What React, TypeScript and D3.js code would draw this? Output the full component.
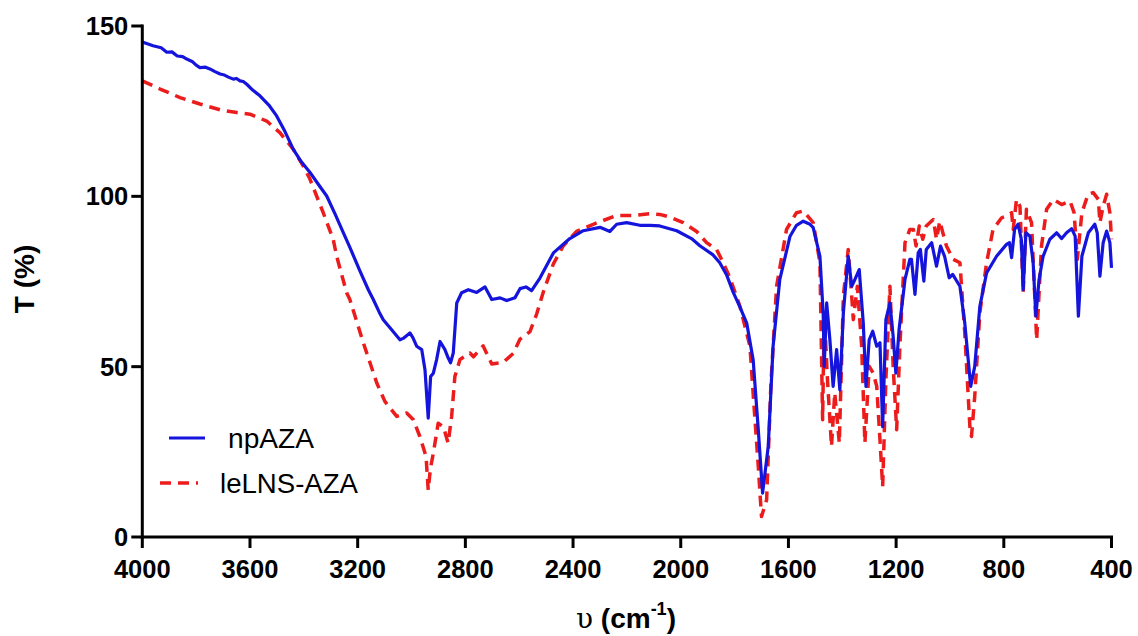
import React from "react";
import * as d3 from "d3";

const seriesNames = ["npAZA", "leLNS-AZA"];

const xTicks = [4000, 3600, 3200, 2800, 2400, 2000, 1600, 1200, 800, 400];
const yTicks = [0, 50, 100, 150];

// [wavenumber (cm-1), T (%)]
const npAZA: [number, number][] = [
  [4000,145.3],[3960,144.2],[3930,143.6],[3909,142.3],[3890,142.4],[3870,141.2],[3850,141.0],[3835,140.3],[3815,139.6],[3800,138.5],[3786,137.8],[3765,137.9],[3749,137.4],[3730,136.6],[3711,135.9],[3695,135.6],[3680,135.0],[3662,134.4],[3650,134.6],[3637,133.9],[3625,133.7],[3612,132.9],[3590,131.2],[3563,129.5],[3530,126.8],[3501,123.6],[3470,119.0],[3439,113.8],[3410,110.2],[3377,107.0],[3345,103.4],[3315,100.1],[3285,95.0],[3253,89.3],[3229,85.0],[3191,78.0],[3160,72.5],[3142,69.7],[3120,66.0],[3105,63.8],[3080,61.4],[3043,57.9],[3031,58.3],[3006,59.9],[2995,58.5],[2981,56.0],[2962,55.0],[2950,49.1],[2938,34.9],[2929,47.1],[2919,48.1],[2907,52.0],[2894,57.4],[2876,55.0],[2864,52.6],[2855,51.1],[2845,54.0],[2832,68.7],[2814,71.7],[2789,72.6],[2758,71.8],[2727,73.4],[2702,69.7],[2671,70.2],[2647,69.4],[2616,70.2],[2597,72.9],[2575,73.4],[2554,72.3],[2523,76.0],[2473,83.4],[2412,87.6],[2362,89.9],[2300,90.9],[2263,89.7],[2238,91.8],[2201,92.3],[2152,91.5],[2114,91.5],[2078,91.3],[2015,89.9],[1960,87.6],[1929,85.5],[1880,82.8],[1855,80.5],[1830,77.0],[1805,71.8],[1780,67.5],[1755,62.8],[1731,52.0],[1712,31.5],[1696,12.9],[1675,26.6],[1657,56.0],[1632,75.6],[1594,88.3],[1570,91.5],[1545,92.7],[1520,91.8],[1508,90.8],[1483,82.4],[1471,65.8],[1467,50.1],[1458,68.7],[1446,57.9],[1434,44.2],[1421,55.0],[1409,43.2],[1396,65.8],[1378,82.4],[1365,73.6],[1353,75.6],[1337,78.5],[1322,62.8],[1312,44.2],[1300,57.9],[1287,60.4],[1272,56.0],[1260,57.0],[1250,32.4],[1238,63.8],[1223,68.7],[1211,58.9],[1201,48.1],[1189,60.9],[1167,75.6],[1149,81.5],[1143,81.5],[1130,71.2],[1118,83.4],[1110,84.4],[1097,75.1],[1088,84.4],[1068,86.4],[1050,79.5],[1035,85.4],[1020,82.4],[1003,76.1],[990,77.1],[963,73.6],[945,62.8],[923,44.2],[908,50.1],[889,67.7],[864,77.5],[827,82.4],[790,85.9],[779,86.4],[771,82.0],[760,90.3],[747,91.8],[735,87.4],[728,72.6],[718,89.3],[703,88.3],[691,80.5],[681,64.8],[669,75.6],[654,82.4],[629,87.4],[604,89.3],[585,87.6],[567,89.3],[548,90.5],[535,88.3],[523,64.8],[510,82.4],[486,89.3],[462,91.8],[453,89.3],[443,76.6],[431,86.4],[418,89.8],[406,86.4],[400,79.0]
];

const leLNSAZA: [number, number][] = [
  [4000,133.9],[3934,131.5],[3860,129.0],[3786,127.1],[3711,125.4],[3649,124.6],[3600,124.1],[3538,122.1],[3489,118.7],[3439,113.8],[3402,108.9],[3377,105.0],[3328,95.2],[3291,87.4],[3278,82.4],[3241,71.7],[3229,69.7],[3179,57.0],[3129,45.2],[3099,39.8],[3055,35.4],[3018,36.4],[2993,34.4],[2969,29.5],[2946,23.6],[2938,13.8],[2930,20.0],[2919,24.6],[2901,33.4],[2882,32.4],[2864,27.6],[2851,35.4],[2839,47.1],[2820,52.1],[2783,54.0],[2770,52.9],[2734,56.1],[2702,50.8],[2659,51.3],[2622,53.9],[2597,58.1],[2560,60.3],[2535,65.5],[2511,71.8],[2473,80.2],[2436,85.5],[2387,89.7],[2325,91.8],[2238,94.4],[2176,94.4],[2114,94.9],[2078,94.7],[2040,93.9],[1991,92.3],[1941,89.7],[1904,86.4],[1867,84.4],[1842,80.5],[1817,76.0],[1780,67.7],[1743,56.0],[1731,42.0],[1712,20.7],[1700,6.0],[1681,10.9],[1665,45.0],[1644,73.6],[1607,90.3],[1570,95.2],[1545,95.7],[1508,92.3],[1483,80.5],[1473,34.4],[1467,65.8],[1455,46.2],[1440,26.6],[1428,42.3],[1411,27.6],[1396,70.7],[1378,84.4],[1365,70.7],[1359,63.8],[1344,73.6],[1328,56.0],[1316,27.6],[1300,50.1],[1285,48.1],[1272,44.2],[1260,28.5],[1250,14.8],[1238,46.2],[1223,73.6],[1211,50.1],[1198,31.5],[1186,56.0],[1167,86.4],[1149,90.3],[1136,90.3],[1126,85.4],[1114,91.3],[1101,87.4],[1088,91.3],[1062,93.2],[1050,87.4],[1038,92.7],[1013,85.4],[988,81.5],[963,80.5],[945,59.9],[926,32.4],[920,29.5],[908,41.3],[889,65.8],[864,80.5],[840,90.3],[808,93.7],[790,94.2],[771,95.2],[765,90.3],[753,99.1],[740,97.1],[728,71.7],[716,96.2],[697,92.3],[678,57.9],[660,85.4],[641,96.2],[616,99.1],[585,97.6],[554,98.6],[539,95.2],[527,81.5],[510,95.2],[487,100.6],[468,101.1],[449,99.1],[443,92.3],[431,97.1],[418,100.6],[406,95.2],[400,87.4]
];

const BLUE = "#1414dc";
const RED = "#ec1c1c";

export default function App() {
  const x = d3.scaleLinear().domain([4000, 400]).range([142.3, 1111.5]);
  const y = d3.scaleLinear().domain([0, 150]).range([537, 26]);
  const line = d3
    .line<[number, number]>()
    .x((d) => x(d[0]))
    .y((d) => y(d[1]));

  const font = "'Liberation Sans', Arial, Helvetica, sans-serif";

  return (
    <svg
      width={1138}
      height={636}
      style={{ position: "absolute", left: 0, top: 0, background: "#fff" }}
      fontFamily={font}
    >
      <rect x={0} y={0} width={1138} height={636} fill="#fff" />
      {/* series */}
      <path d={line(leLNSAZA) || ""} fill="none" stroke={RED} strokeWidth={3.5} strokeDasharray="11 7" strokeLinejoin="round" />
      <path d={line(npAZA) || ""} fill="none" stroke={BLUE} strokeWidth={3.2} strokeLinejoin="round" />

      {/* axes */}
      <line x1={x(4000)} x2={x(4000)} y1={y(150) - 1.5} y2={y(0) + 1.5} stroke="#000" strokeWidth={3} />
      <line x1={x(4000) - 1.5} x2={x(400) + 1.5} y1={y(0)} y2={y(0)} stroke="#000" strokeWidth={3} />
      {yTicks.map((t) => (
        <g key={"y" + t}>
          <line x1={x(4000) - 11} x2={x(4000)} y1={y(t)} y2={y(t)} stroke="#000" strokeWidth={3} />
          <text x={x(4000) - 14} y={y(t) + 9} textAnchor="end" fontSize={25.5} fontWeight="bold" fill="#000">
            {t}
          </text>
        </g>
      ))}
      {xTicks.map((t) => (
        <g key={"x" + t}>
          <line x1={x(t)} x2={x(t)} y1={y(0)} y2={y(0) + 11} stroke="#000" strokeWidth={3} />
          <text x={x(t)} y={578} textAnchor="middle" fontSize={25.5} fontWeight="bold" fill="#000">
            {t}
          </text>
        </g>
      ))}

      {/* axis titles */}
      <text transform="translate(34,279) rotate(-90)" textAnchor="middle" fontSize={28} fontWeight="bold" fill="#000">
        T (%)
      </text>
      <text x={626} y={628} textAnchor="middle" fontSize={28} fontWeight="bold" fill="#000">
        <tspan fontWeight="normal" fontFamily="'DejaVu Serif', serif">υ</tspan>
        <tspan> (cm</tspan>
        <tspan fontSize={18} dy={-13}>-1</tspan>
        <tspan dy={13}>)</tspan>
      </text>

      {/* legend */}
      <line x1={169} x2={205} y1={438} y2={438} stroke={BLUE} strokeWidth={3.2} />
      <text x={228} y={448} fontSize={27} fill="#000" textLength={86} lengthAdjust="spacingAndGlyphs">
        {seriesNames[0]}
      </text>
      <line x1={160} x2={198} y1={483} y2={483} stroke={RED} strokeWidth={3.5} strokeDasharray="11 7" />
      <text x={220} y={493} fontSize={27} fill="#000" textLength={138} lengthAdjust="spacingAndGlyphs">
        {seriesNames[1]}
      </text>
    </svg>
  );
}
